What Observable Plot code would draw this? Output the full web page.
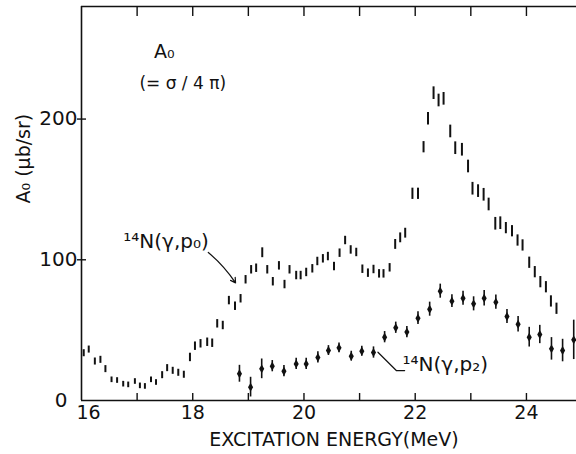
<!DOCTYPE html>
<html>
<head>
<meta charset="utf-8">
<script src="https://cdn.jsdelivr.net/npm/d3@7"></script>
<script src="https://cdn.jsdelivr.net/npm/@observablehq/plot@0.6"></script>
<style>
  html, body { margin: 0; padding: 0; background: #fff; }
  svg { display: block; }
</style>
</head>
<body>
<div id="chart"></div>
<script>
// 14N(γ,p0): energy (MeV), A0 (μb/sr), error
const p0Energy = [16.04,16.13,16.24,16.34,16.43,16.54,16.64,16.75,16.84,16.96,17.05,17.14,17.25,17.34,17.45,17.54,17.64,17.74,17.84,17.95,18.04,18.14,18.26,18.35,18.44,18.54,18.65,18.76,18.86,18.95,19.05,19.14,19.25,19.34,19.44,19.55,19.65,19.74,19.86,19.94,20.04,20.15,20.24,20.34,20.43,20.54,20.64,20.74,20.84,20.94,21.05,21.15,21.25,21.35,21.43,21.54,21.64,21.73,21.82,21.95,22.05,22.15,22.23,22.33,22.42,22.51,22.63,22.72,22.84,22.95,23.03,23.13,23.23,23.32,23.44,23.53,23.63,23.74,23.84,23.93,24.05,24.15,24.25,24.35,24.44,24.54];
const p0Value = [33.6,36.2,27.7,28.9,22.3,14.7,14.2,11.6,11.1,13.5,10.4,10.0,14.7,12.8,18.0,23.0,21.1,19.7,18.3,30.6,38.6,40.3,41.4,40.7,54.5,53.3,71.0,67.0,72.3,85.8,92.9,94.0,105.0,92.9,84.4,95.7,82.4,92.9,88.8,88.8,91.0,93.6,98.8,100.7,102.3,95.2,104.7,113.7,107.0,105.2,93.3,90.5,93.1,90.0,90.0,94.3,110.9,115.6,118.9,146.9,146.9,180.0,200.2,218.4,213.2,214.4,191.2,179.3,178.2,166.3,150.5,148.8,146.2,139.3,125.6,126.0,122.5,120.3,113.7,110.2,97.9,91.2,84.1,80.5,70.4,65.2];
const p0Error = [2.5,2.5,2.5,2.5,2.5,2,2,2,2,2,2,2,2,2,2.5,2.5,2.5,2.5,2.5,3,3,3,3,3,3,3,3,3,3,3,3,3,3.5,3,3,3,3,3,3,3,3,3,3,3,3,3,3,3,3,3,3,3,3,3,3,3,3.5,3.5,3.5,4,4,4,4.5,4.5,4.5,4.5,4.5,4.5,4.5,4.5,4.5,4.5,4.5,4.5,4.5,4.5,4,4,4,4,4,4,4,4,4,4];

// 14N(γ,p2)
const p2Energy = [18.84,19.04,19.24,19.43,19.64,19.86,20.04,20.25,20.44,20.63,20.85,21.04,21.25,21.45,21.65,21.85,22.05,22.26,22.45,22.66,22.86,23.05,23.24,23.45,23.65,23.85,24.05,24.24,24.45,24.65,24.85];
const p2Value = [19.0,9.5,22.5,24.4,20.8,26.0,26.0,30.6,35.5,37.4,31.5,35.0,34.1,45.0,51.7,48.6,58.5,64.9,77.7,70.6,72.7,68.7,72.7,69.9,59.7,54.2,45.0,46.9,36.7,35.5,43.1];
const p2Error = [6,7,7,4,4,4,4,4,3.5,3.5,3.5,3.5,4,4,4,4,4.5,5,5,4.5,5,5,5.5,5,5,5.5,7,6.5,8,8,14];

const xTickLabels = [16, 18, 20, 22, 24];
const xTicks = [17, 18, 19, 20, 21, 22, 23, 24];
const yTickLabels = [0, 100, 200];
const yTicks = [100, 200];

const p0 = p0Energy.map((e, i) => ({e, v: p0Value[i], err: p0Error[i]}));
const p2 = p2Energy.map((e, i) => ({e, v: p2Value[i], err: p2Error[i]}));

const ink = "#111";
const font = "DejaVu Sans, sans-serif";
const W = 576, H = 454, mL = 81, mR = 0, mT = 6, mB = 54;
const fw = W - mL - mR, fh = H - mT - mB;

const chart = Plot.plot({
  width: W, height: H,
  marginLeft: mL, marginRight: mR, marginTop: mT, marginBottom: mB,
  style: {fontFamily: font, color: ink, background: "#fff", overflow: "visible"},
  x: {domain: [16, 24.9]},
  y: {domain: [0, 280]},
  marks: [
    // frame (left, bottom, top)
    Plot.ruleX([16], {stroke: ink, strokeWidth: 1.6}),
    Plot.ruleY([0], {stroke: ink, strokeWidth: 1.6}),
    Plot.ruleY([280], {stroke: ink, strokeWidth: 1.6}),
    // inward ticks
    Plot.ruleX(xTicks, {stroke: ink, strokeWidth: 1.4, insetTop: fh - 8, dy: 1}),
    Plot.ruleX(xTicks, {stroke: ink, strokeWidth: 1.4, insetBottom: fh - 10}),
    Plot.ruleY(yTicks, {stroke: ink, strokeWidth: 1.4, insetRight: fw - 9, dx: -4}),
    // tick labels
    Plot.axisX([16], {anchor: "bottom", tickSize: 0, tickPadding: 5, dx: 7, fontSize: 19, fill: ink, label: null}),
    Plot.axisX(xTickLabels.slice(1), {anchor: "bottom", tickSize: 0, tickPadding: 5, fontSize: 19, fill: ink, label: null}),
    Plot.axisY([0], {anchor: "left", tickSize: 0, tickPadding: 14, fontSize: 20, fill: ink, label: null}),
    Plot.axisY(yTickLabels.slice(1), {anchor: "left", tickSize: 0, tickPadding: 4, fontSize: 20, fill: ink, label: null}),
    // axis titles
    Plot.text(["EXCITATION ENERGY(MeV)"], {frameAnchor: "bottom", lineAnchor: "middle", dy: 39, fontSize: 19, fill: ink, dx: 5}),
    Plot.text(["A₀ (μb/sr)"], {frameAnchor: "left", dx: -58, rotate: -90, fontSize: 19, fill: ink}),
    // p0 error bars
    Plot.ruleX(p0, {x: "e", y1: d => d.v - d.err, y2: d => d.v + d.err, stroke: ink, strokeWidth: 2}),
    // p2 error bars and diamonds
    Plot.ruleX(p2, {x: "e", y1: d => d.v - d.err, y2: d => d.v + d.err, stroke: ink, strokeWidth: 1.6}),
    Plot.dot(p2, {x: "e", y: "v", symbol: "diamond", r: 2.7, fill: ink, stroke: null}),
    // annotations
    Plot.text(["A₀"], {x: 17.49, y: 247.5, fontSize: 19, fill: ink}),
    Plot.text(["(= σ / 4 π)"], {x: 17.82, y: 225.5, fontSize: 17, fill: ink}),
    Plot.text(["¹⁴N(γ,p₀)"], {x: 17.52, y: 113, fontSize: 20, fill: ink}),
    Plot.arrow([0], {x1: 18.28, y1: 105.2, x2: 18.77, y2: 83.6, stroke: ink, strokeWidth: 1.2, headLength: 7, bend: 8}),
    Plot.text(["¹⁴N(γ,p₂)"], {x: 22.54, y: 25.2, fontSize: 20, fill: ink}),
    Plot.line([{e: 21.33, v: 34.3}, {e: 21.66, v: 21.3}, {e: 21.81, v: 21.3}], {x: "e", y: "v", stroke: ink, strokeWidth: 1.2})
  ]
});
document.getElementById("chart").appendChild(chart);
</script>
</body>
</html>
